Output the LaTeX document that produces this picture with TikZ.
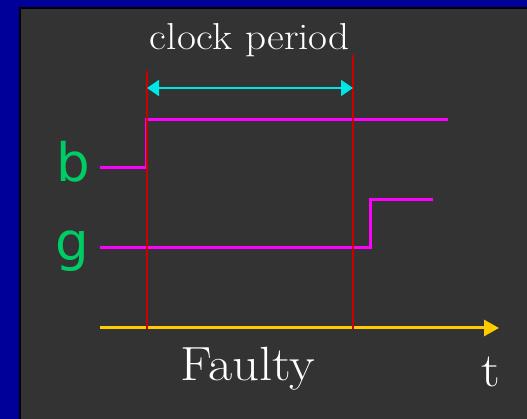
\documentclass[tikz,border=0pt]{standalone}
\usepackage{fontspec}
\newfontfamily\labelfont{DejaVu Sans}
\newfontfamily\capfont[FakeStretch=1.1]{Latin Modern Roman}
\usetikzlibrary{arrows.meta}

\definecolor{slideblue}{RGB}{0,0,153}
\definecolor{panelgrey}{RGB}{51,51,51}
\definecolor{sigmagenta}{RGB}{255,0,255}
\definecolor{edgered}{RGB}{204,0,0}
\definecolor{periodcyan}{RGB}{0,230,230}
\definecolor{axisyellow}{RGB}{255,204,0}
\definecolor{namegreen}{RGB}{0,204,102}

\tikzset{
  signal/.style={sigmagenta, line width=3pt},
  clockedge/.style={edgered, line width=1.3pt},
  signame/.style={namegreen, anchor=base, inner sep=0pt, font=\labelfont\fontsize{53}{56}\selectfont},
  caption/.style={white, anchor=base, inner sep=0pt}
}

\begin{document}
\begin{tikzpicture}[x=1pt, y=-1pt]
\useasboundingbox (0,0) rectangle (527,419);

% slide background
\fill[slideblue] (0,0) rectangle (527,419);
\fill[panelgrey, draw=black, line width=1.5pt] (20,8) rectangle (530,425);

% signal names
\node[signame] (b) at (73,182) {b};
\node[signame] (g) at (72,261) {g};

%---signal b---
\coordinate (b0) at (100,168);
\coordinate (b1) at (146,168);
\coordinate (b2) at (146,120);
\coordinate (b3) at (448,120);
\draw[signal] (b0)--(b1)--(b2)--(b3);

%---signal g---
\coordinate (g0) at (100,248);
\coordinate (g1) at (370,248);
\coordinate (g2) at (370,200);
\coordinate (g3) at (433,200);
\draw[signal] (g0)--(g1)--(g2)--(g3);

%---time axis---
\coordinate (t0) at (100,328);
\coordinate (t1) at (499,328);
\draw[axisyellow, line width=3pt, -{Triangle[length=15pt, width=16pt]}] (t0)--(t1);

%---clock edges---
\coordinate (e1top) at (147,71);
\coordinate (e1bot) at (147,329);
\coordinate (e2top) at (353,55);
\coordinate (e2bot) at (353,329);
\draw[clockedge] (e1top)--(e1bot);
\draw[clockedge] (e2top)--(e2bot);

%---period---
\coordinate (p0) at (147,88);
\coordinate (p1) at (353,88);
\draw[periodcyan, line width=2pt, {Triangle[length=12pt, width=16pt]}-{Triangle[length=12pt, width=16pt]}] (p0)--(p1);

\node[caption, font=\capfont\fontsize{37.5}{40}\selectfont] (period) at (250,50) {clock period};
\node[caption, font=\capfont\fontsize{48}{50}\selectfont] (faulty) at (248,380) {Faulty};
\node[caption, font=\capfont\fontsize{48}{50}\selectfont] (t) at (491,386) {t};

\end{tikzpicture}
\end{document}
